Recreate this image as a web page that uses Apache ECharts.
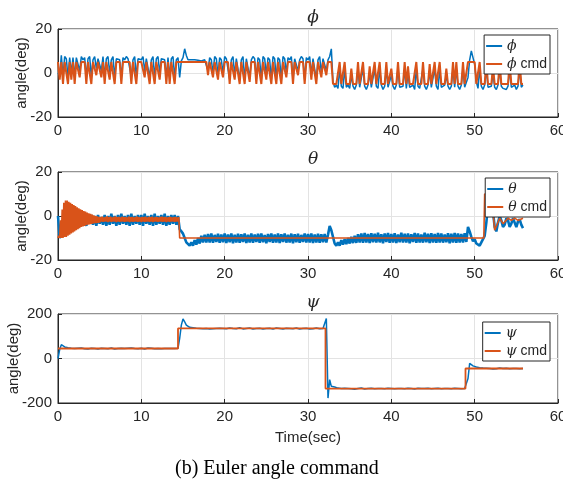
<!DOCTYPE html>
<html><head><meta charset="utf-8">
<script src="https://cdn.jsdelivr.net/npm/echarts@6/dist/echarts.min.js"></script>
<style>html,body{margin:0;padding:0;background:#fff}#c{width:563px;height:496px}</style>
</head><body><div id="c"></div>
<script>
// sampling step of the recorded signals (seconds)
const DT = 0.2;
const DT_FINE = 0.1;

// ---- phi (roll) ----
const phiMeas = [
0,-1,8,-2,7.5,6.5,-2,7,0,7,
-2,7,6.5,1,7.5,6,7,-2,6.5,7.5,
-2,6,7.5,2,6.5,7,1,7.5,-2,6.5,
7.5,0,6,7.5,-2,6.5,7,6,-2,7,
6,7.5,6.5,7,-2,6,7.5,-2,6.5,7,
6,7.5,1,6.5,7,-2,6,7.5,-2,6.5,
7.5,0,6.5,7,6,-2,7,-2,6.5,7.5,
-2,6,7,-2,5.5,7,11,8,6,5.5,
6,5.5,6,5.5,5.8,6,5.5,5.8,6,5.5,
1,7,6,0,7.5,6.5,-1,7,6,0,
7.5,6.5,7,-3,6,7.5,-1,6.5,7,-3,
6,7.5,-3,6.5,7,-2,6,7.5,6.5,-3,
7,6,-3,7.5,6.5,-1,7,6,-3,7.5,
6.5,-3,7,6,-3,7.5,6.5,0,7,6,
7.5,-3,6.5,7,1,6,7.5,6.5,-3,7,
6,7.5,-1,6.5,7,-3,6,7.5,0,6.5,
7,1,6,7.5,11,-4,-6.5,-5.5,-7,2,
-6,-7,2,-6.5,-5.5,-7,-1,-6,-7.5,-5.5,
2,-6.5,-7,2,-6,-7.5,-5.5,0,-6.5,-7,
2,-6,-7,2,-5.5,-7.5,-6,2,-6.5,-7,
-1,-6,-7.5,-5.5,2,-6.5,-7,-6,2,-7,
0,-6.5,-7,-5.5,-7.5,2,-6,-7,-6.5,2,
-6,-7.5,-5.5,1,-6.5,-7,2,-6,-7.5,2,
-6.5,-7,-5.5,-1,-6,-7.5,-6,2,-6.5,2,
-6,-7.5,-5.5,2,-6.5,-7,-2,6,10,7,
4,-4,-7,2,-6,-7.5,-5.5,2,-6.5,-7,
-6,0,-6.5,-7.5,-5.5,2,-6,-7,-6.5,-7.5,
-6,2,-6.5,-7,-5.5,-7.5,-6,2,-6.5,-5.5
];
const phiCmd = [
5,-3,5,-5,5,5,-5,5,-3,5,
-5,5,5,-2,5,5,5,-5,5,5,
-5,5,5,-1,5,5,-2,5,-5,5,
5,-3,5,5,-5,5,5,5,-5,5,
5,5,5,5,-5,5,5,-5,5,5,
5,5,-2,5,5,-5,5,5,-5,5,
5,-3,5,5,5,-5,5,-5,5,5,
-5,5,5,5,5,5,5,5,5,5,
5,5,5,5,5,5,5,5,5,5,
-1,5,5,-2,5,5,-3,5,5,-2,
5,5,5,-5,5,5,-3,5,5,-5,
5,5,-5,5,5,-4,5,5,5,-5,
5,5,-5,5,5,-3,5,5,-5,5,
5,-5,5,5,-5,5,5,-2,5,5,
5,-5,5,5,-1,5,5,5,-5,5,
5,5,-3,5,5,-5,5,5,-2,5,
5,-1,5,5,5,-5,-5,-5,-5,5,
-5,-5,5,-5,-5,-5,2,-5,-5,-5,
5,-5,-5,5,-5,-5,-5,3,-5,-5,
5,-5,-5,5,-5,-5,-5,5,-5,-5,
2,-5,-5,-5,5,-5,-5,-5,5,-5,
3,-5,-5,-5,-5,5,-5,-5,-5,5,
-5,-5,-5,4,-5,-5,5,-5,-5,5,
-5,-5,-5,2,-5,-5,-5,5,-5,5,
-5,-5,-5,5,-5,-5,5,5,5,5,
5,-5,-5,5,-5,-5,-5,5,-5,-5,
-5,3,-5,-5,-5,5,-5,-5,-5,-5,
-5,5,-5,-5,-5,-5,-5,5,-5,-5
];

// ---- theta (pitch) ----
const thetaMeas = [
0,-10,-8,-6,-5,-4.5,-4,-3.5,-3,-3,
-1,-4,0,-3.5,0.5,-4,-0.5,-4.5,0,-3.5,
0.5,-4,0,-4.5,0.5,-3.5,-0.5,-4,0.5,-4.5,
0,-4,1,-3.5,0,-4.5,0.5,-4,1,-3.5,
0,-4,0.5,-4.5,1,-4,0,-3.5,0.5,-4,
0.5,-4.5,1,-3.5,0,-4,0.5,-4.5,1,-4,
0,-3.5,0.5,-4,1,-4.5,0,-4,0.5,-3.5,
0.5,-4,0,-6,-7,-8,-10,-12,-11.5,-13.5,
-12,-13.5,-11,-13,-10,-12.5,-9,-12,-8.5,-12,
-8.2,-12,-8,-12.2,-8.6,-11.8,-8.1,-12.2,-8.4,-11.9,
-8,-12.3,-8.4,-11.9,-7.9,-12.4,-8.5,-12,-8.1,-12.2,
-8.3,-11.8,-8,-12.3,-8.5,-12,-8,-12.2,-8.4,-11.8,
-8.1,-12.2,-7.9,-11.9,-8.6,-12.4,-8.2,-11.8,-8,-12.2,
-8.4,-12,-8,-12.3,-8.3,-11.8,-7.9,-12.1,-8.5,-12,
-8,-12.4,-8.3,-11.9,-8.1,-12.2,-8.6,-11.8,-8,-12.1,
-8.2,-12,-7.9,-12.3,-8.4,-12,-8.1,-12.2,-8.3,-11.9,
-8.2,-12,-8.5,-4.5,-6.5,-9.5,-12.5,-13.5,-12,-13.5,
-11,-13,-10.5,-12.8,-10,-12.5,-9.5,-12.3,-9,-12.2,
-8.3,-12.1,-8,-12.2,-7.7,-12,-8.2,-12.3,-7.8,-11.9,
-8.1,-12.1,-7.6,-12,-8.3,-12.4,-7.9,-11.8,-7.7,-12.2,
-8.2,-12,-7.8,-12.3,-8.4,-11.9,-7.6,-12.1,-8.1,-12,
-7.9,-12.4,-8.3,-11.8,-7.7,-12.2,-8,-12,-8.4,-12.1,
-7.6,-11.9,-8.1,-12.3,-7.8,-12,-8.2,-12.2,-7.7,-12,
-8,-12.1,-8.4,-11.9,-7.8,-12.4,-8.1,-12,-7.7,-12.2,
-7.9,-12,-8.2,-12.1,-7.8,-11.8,-5,-7,-9.5,-11.5,
-10.5,-12.5,-12,-13.5,-12,-12.5,-9,-3,5,12,
9,2,-5,-7,-3,0,-2,-5,-4,-1,
-2,-5,-3.5,-1,-3,-5,-2.5,-1.5,-4,-5.5
];
// command, first part sampled every 0.1 s (0 .. 14.5 s)
const thetaCmdEarly = [
-10,-9,-10,-2,-10,3,-10,6,-9.5,7,
-9.5,7,-9,6.5,-8.5,6,-8,5.5,-7.5,5,
-7,4.5,-6.5,4,-6,3.5,-5.5,3,-5,2.7,
-4.7,2.3,-4.5,2,-4.2,1.6,-4,1.2,-3.8,1,
-3.6,0.6,-3.5,0.3,-3.3,0,-3.2,-0.2,-3.1,-0.4,
-3,-0.5,-2.6,-0.3,-2.7,-0.6,-2.5,-0.4,-2.6,-0.2,
-2.8,-0.5,-2.6,-0.3,-2.7,-0.6,-2.5,-0.4,-2.6,-0.2,
-2.8,-0.5,-2.6,-0.4,-2.7,-0.6,-2.5,-0.3,-2.6,-0.5,
-2.7,-0.4,-2.5,-0.6,-2.6,-0.3,-2.8,-0.5,-2.6,-0.4,
-2.7,-0.6,-2.5,-0.4,-2.6,-0.3,-2.7,-0.5,-2.6,-0.6,
-2.8,-0.4,-2.6,-0.5,-2.7,-0.3,-2.5,-0.6,-2.6,-0.4,
-2.7,-0.5,-2.6,-0.3,-2.8,-0.6,-2.5,-0.4,-2.6,-0.5,
-2.7,-0.6,-2.6,-0.4,-2.5,-0.3,-2.7,-0.5,-2.6,-0.4,
-2.8,-0.6,-2.6,-0.5,-2.7,-0.4,-2.5,-0.6,-2.6,-0.5,
-2.7,-0.4,-2.6,-0.6,-2.5,-0.5
];
// command, later part as breakpoints
const thetaCmdLateT = [14.6, 51.1, 51.2, 52.0, 52.4, 53.0, 53.4, 54.0, 54.4, 54.8, 55.2, 55.8];
const thetaCmdLateV = [-10, -10, 10, 10, -6.5, -1, -3.5, -1, -2, -1, -2, -1];

// ---- psi (yaw) ----
const psiMeas = [
0,40,62,55,52,50,48,47,46,46,
45,43,46,44,47,45,44,46,43,45,
46,44,45,47,43,45,46,44,45,46,
44,45,47,45,43,46,45,44,46,45,
45,43,46,45,47,44,45,46,44,45,
46,45,43,45,47,44,46,45,44,45,
45,46,44,47,45,43,45,46,45,44,
45,44,46,90,150,178,165,150,143,140,
139,138,137,136,137,135,136,134,136,135,
135,133,136,134,137,135,132,136,134,135,
136,134,135,137,133,135,136,134,135,138,
135,133,136,135,134,137,135,133,136,135,
134,136,135,133,137,135,134,136,135,132,
135,137,134,135,136,133,135,136,134,135,
136,134,135,137,135,133,136,135,134,136,
135,133,136,134,135,137,135,134,136,135,
135,180,-178,-95,-125,-130,-128,-131,-133,-134,
-135,-137,-134,-136,-135,-133,-136,-135,-138,-134,
-135,-136,-133,-135,-137,-134,-135,-136,-134,-135,
-136,-134,-135,-138,-135,-133,-136,-135,-134,-136,
-135,-133,-136,-134,-135,-137,-135,-134,-136,-135,
-134,-136,-135,-133,-137,-135,-134,-136,-135,-132,
-135,-137,-134,-135,-136,-133,-135,-136,-134,-135,
-136,-134,-135,-137,-135,-133,-136,-135,-134,-136,
-135,-133,-136,-134,-135,-135,-90,-22,-28,-33,
-36,-38,-40,-41,-42,-43,-43,-44,-44,-45,
-45,-47,-44,-46,-45,-43,-46,-45,-47,-44,
-45,-46,-44,-45,-47,-45,-44,-46,-45,-45
];
const psiCmdT = [0, 14.4, 14.4, 32.1, 32.1, 48.9, 48.9, 55.8];
const psiCmdV = [45, 45, 135, 135, -135, -135, -45, -45];

// axis ticks
const xMin = 0, xMax = 60, xStep = 10;
const angMin = -20, angMax = 20, angStep = 20;
const psiMin = -200, psiMax = 200, psiStep = 200;

const BLUE = '#0072BD', ORANGE = '#D95319', INK = '#262626';
const SANS = 'Liberation Sans, Arial, sans-serif';
const SERIF = 'DejaVu Serif, Liberation Serif, serif';

function sampled(arr, dt) { return arr.map((v, i) => [Math.round(i * dt * 100) / 100, v]); }
function paired(ts, vs) { return ts.map((t, i) => [t, vs[i]]); }

const grids = [
  {left: 58, width: 500, top: 29, height: 88},
  {left: 58, width: 500, top: 172, height: 88},
  {left: 58, width: 500, top: 314, height: 89}
].map(g => Object.assign(g, {show: true, borderColor: INK, borderWidth: 1,
  backgroundColor: 'transparent', containLabel: false, outerBoundsMode: 'none'}));

function xAx(i) {
  const a = {
    type: 'value', gridIndex: i, min: xMin, max: xMax, interval: xStep,
    axisLine: {show: true, onZero: false, lineStyle: {color: INK, width: 1}},
    axisTick: {show: true, inside: true, length: 4, lineStyle: {color: INK}},
    axisLabel: {fontSize: 15, color: INK, fontFamily: SANS, margin: 6},
    splitLine: {show: true, lineStyle: {color: '#e3e3e3', width: 1}}
  };
  if (i === 2) {
    a.name = 'Time(sec)'; a.nameLocation = 'middle'; a.nameGap = 27; a.nameMoveOverlap = false;
    a.nameTextStyle = {fontSize: 15, color: INK, fontFamily: SANS};
  }
  return a;
}
function yAx(i, mn, mx, st, gap) {
  return {
    type: 'value', gridIndex: i, min: mn, max: mx, interval: st,
    name: 'angle(deg)', nameLocation: 'middle', nameGap: gap, nameRotate: 90, nameMoveOverlap: false,
    nameTextStyle: {fontSize: 15, color: INK, fontFamily: SANS},
    axisLine: {show: true, onZero: false, lineStyle: {color: INK, width: 1}},
    axisTick: {show: true, inside: true, length: 4, lineStyle: {color: INK}},
    axisLabel: {fontSize: 15, color: INK, fontFamily: SANS, margin: 6},
    splitLine: {show: true, lineStyle: {color: '#e3e3e3', width: 1}}
  };
}
function line(name, data, idx, color, w) {
  return {
    name: name, type: 'line', data: data, xAxisIndex: idx, yAxisIndex: idx,
    showSymbol: false, symbol: 'none', animation: false,
    lineStyle: {color: color, width: w}, itemStyle: {color: color}
  };
}
const legendNames = {'ϕ': '{g|ϕ}', 'ϕ cmd': '{g|ϕ} cmd', 'θ': '{g|θ}', 'θ cmd': '{g|θ} cmd', 'ψ': '{g|ψ}', 'ψ cmd': '{g|ψ} cmd'};
function leg(names, top) {
  return {
    data: names, orient: 'vertical', right: 13, top: top,
    backgroundColor: '#fff', borderColor: INK, borderWidth: 1,
    padding: [3, 3, 2, 2], itemGap: 2, itemWidth: 16, itemHeight: 2, icon: 'rect',
    selectedMode: false,
    formatter: n => legendNames[n],
    textStyle: {fontSize: 14, color: INK, fontFamily: SANS, lineHeight: 16,
      rich: {g: {fontFamily: SERIF, fontStyle: 'italic', fontSize: 14, color: INK}}}
  };
}
function ttl(text, top) {
  return {text: text, left: 308, top: top, textAlign: 'center',
    textStyle: {fontFamily: SERIF, fontStyle: 'italic', fontWeight: 'normal', fontSize: 17, color: INK}};
}

const option = {
  animation: false,
  backgroundColor: '#fff',
  title: [ttl('ϕ', 4), ttl('θ', 146), ttl('ψ', 289)],
  grid: grids,
  xAxis: [xAx(0), xAx(1), xAx(2)],
  yAxis: [yAx(0, angMin, angMax, angStep, 29), yAx(1, angMin, angMax, angStep, 29), yAx(2, psiMin, psiMax, psiStep, 37)],
  legend: [leg(['ϕ', 'ϕ cmd'], 35), leg(['θ', 'θ cmd'], 178), leg(['ψ', 'ψ cmd'], 322)],
  series: [
    line('ϕ', sampled(phiMeas, DT), 0, BLUE, 1.5),
    line('ϕ cmd', sampled(phiCmd, DT), 0, ORANGE, 2),
    line('θ', sampled(thetaMeas, DT), 1, BLUE, 2.6),
    line('θ cmd', sampled(thetaCmdEarly, DT_FINE).concat(paired(thetaCmdLateT, thetaCmdLateV)), 1, ORANGE, 1.6),
    line('ψ', sampled(psiMeas, DT), 2, BLUE, 1.5),
    line('ψ cmd', paired(psiCmdT, psiCmdV), 2, ORANGE, 1.8)
  ],
  graphic: [{
    type: 'text', left: 175, top: 459,
    style: {text: '(b) Euler angle command', fontFamily: 'Liberation Serif, Times New Roman, serif', fontSize: 20, fill: '#000'}
  }]
};
const chart = echarts.init(document.getElementById('c'), null, {renderer: 'canvas'});
chart.setOption(option);
</script></body></html>
